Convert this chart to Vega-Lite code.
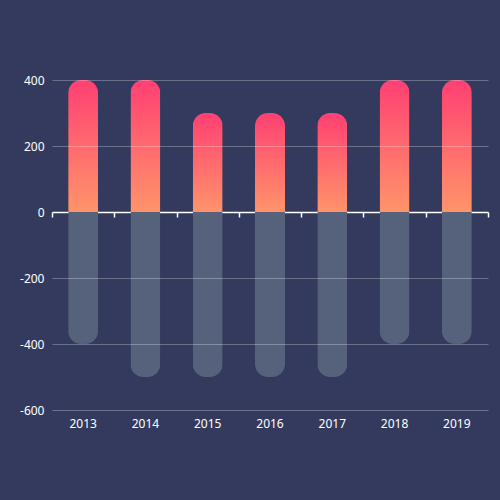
{
  "$schema": "https://vega.github.io/schema/vega-lite/v6.json",
  "autosize": "none",
  "width": 436,
  "height": 330,
  "padding": {"left": 52, "top": 80, "right": 12, "bottom": 90},
  "background": "#333a5d",
  "config": {
    "view": {"stroke": null},
    "axis": {
      "labelFont": "Noto Sans",
      "labelFontSize": 12,
      "labelColor": "#ffffff",
      "title": null
    }
  },
  "data": {
    "values": [
      {"year": "2013", "income": 400, "expense": -400},
      {"year": "2014", "income": 400, "expense": -500},
      {"year": "2015", "income": 300, "expense": -500},
      {"year": "2016", "income": 300, "expense": -500},
      {"year": "2017", "income": 300, "expense": -500},
      {"year": "2018", "income": 400, "expense": -400},
      {"year": "2019", "income": 400, "expense": -400}
    ]
  },
  "layer": [
    {
      "mark": {
        "type": "bar",
        "width": 30,
        "cornerRadiusTopLeft": 13,
        "cornerRadiusTopRight": 13,
        "color": {
          "gradient": "linear",
          "x1": 0, "y1": 0, "x2": 0, "y2": 1,
          "stops": [
            {"offset": 0, "color": "#ff4073"},
            {"offset": 1, "color": "#ff946a"}
          ]
        }
      },
      "encoding": {
        "x": {
          "field": "year",
          "type": "ordinal",
          "scale": {"paddingInner": 0, "paddingOuter": 0},
          "axis": {
            "orient": "bottom",
            "domain": false,
            "ticks": false,
            "labelAngle": 0,
            "labelPadding": 8
          }
        },
        "y": {
          "field": "income",
          "type": "quantitative",
          "scale": {"domain": [-600, 400], "nice": false, "zero": false},
          "axis": {
            "values": [-600, -400, -200, 0, 200, 400],
            "labelExpr": "'' + datum.value",
            "domain": false,
            "ticks": false,
            "labelPadding": 8,
            "grid": true,
            "gridColor": "#ffffff",
            "gridOpacity": {"condition": {"test": "datum.value === 0", "value": 0}, "value": 0.28},
            "zindex": 1
          }
        }
      }
    },
    {
      "mark": {
        "type": "bar",
        "width": 30,
        "cornerRadiusBottomLeft": 13,
        "cornerRadiusBottomRight": 13,
        "color": "#56617c"
      },
      "encoding": {
        "x": {
          "field": "year",
          "type": "ordinal",
          "axis": {
            "orient": "top",
            "offset": -132,
            "labels": false,
            "domainColor": "#ffffff",
            "domainWidth": 1.5,
            "tickColor": "#ffffff",
            "tickWidth": 1.5,
            "tickSize": -5,
            "tickBand": "extent",
            "zindex": 0
          }
        },
        "y": {"field": "expense", "type": "quantitative"}
      }
    }
  ],
  "resolve": {"axis": {"x": "independent"}}
}
